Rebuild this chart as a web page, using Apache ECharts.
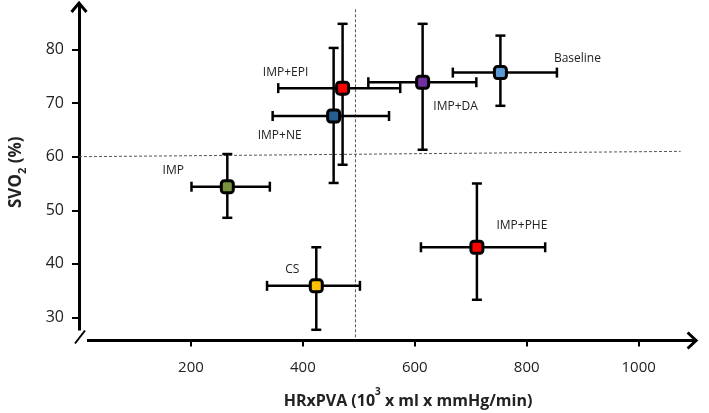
<!DOCTYPE html>
<html>
<head>
<meta charset="utf-8">
<script src="https://cdn.jsdelivr.net/npm/echarts@6/dist/echarts.min.js"></script>
<style>html,body{margin:0;padding:0;background:#fff;}#c{width:709px;height:413px;}</style>
</head>
<body>
<div id="c"></div>
<script>
const names = ['Baseline', 'IMP+DA', 'IMP+EPI', 'IMP+NE', 'IMP', 'CS', 'IMP+PHE'];
const xVals = [753, 614, 471, 455, 265, 424, 711];
const xLow  = [668, 517, 356, 346, 201, 336, 611];
const xHigh = [854, 710, 574, 554, 341, 502, 833];
const yVals = [75.7, 73.9, 72.8, 67.6, 54.4, 35.9, 43.1];
const yLow  = [69.5, 61.3, 58.5, 55.1, 48.6, 27.7, 33.3];
const yHigh = [82.6, 84.8, 84.8, 80.3, 60.5, 43.1, 55.0];
const xTicks = [200, 400, 600, 800, 1000];
const yTicks = [30, 40, 50, 60, 70, 80];
const refX = 494;   // vertical dashed reference
const refY = 60;    // horizontal dashed reference

const colors = ['#5B9BD5', '#7030A0', '#FF0000', '#255E91', '#77933C', '#FFC000', '#FF0000'];
const labelOffsets = [[77, -14], [33, 24], [-57, -16], [-54, 20], [-54, -16], [-24, -16], [45, -22]];

const chart = echarts.init(document.getElementById('c'));
const font = "'Open Sans', 'Liberation Sans', sans-serif";

const errData = names.map((n, i) => [xVals[i], yVals[i], xLow[i], xHigh[i], yLow[i], yHigh[i]]);
const ptData = names.map((n, i) => ({
  name: n,
  value: [xVals[i], yVals[i]],
  itemStyle: { color: colors[i] },
  label: { offset: labelOffsets[i] }
}));

const X_MIN = 0, X_MAX = 1100, Y_MIN = 25.7, Y_MAX = 88.5;

const option = {
  animation: false,
  title: {
    text: '{b|HRxPVA (10}{s|3}{b| x ml x mmHg/min)}',
    left: 403, top: 382, textAlign: 'center',
    textStyle: {
      rich: {
        b: { fontFamily: font, fontWeight: 'bold', fontSize: 16, color: '#222', lineHeight: 22, verticalAlign: 'bottom' },
        s: { fontFamily: font, fontWeight: 'bold', fontSize: 10, color: '#222', lineHeight: 22, verticalAlign: 'top', padding: [0, 0, 8, 0] }
      }
    }
  },
  grid: { left: 72, right: 14.4, top: 4, bottom: 72.5 },
  xAxis: {
    type: 'value', min: X_MIN, max: X_MAX,
    splitLine: { show: false },
    axisLine: { lineStyle: { color: '#000', width: 3 } },
    axisTick: { customValues: xTicks, length: 6, lineStyle: { color: '#000', width: 2 } },
    axisLabel: { customValues: xTicks, margin: 20, fontFamily: font, fontSize: 15, color: '#222', formatter: v => String(v) }
  },
  yAxis: {
    type: 'value', min: Y_MIN, max: Y_MAX,
    splitLine: { show: false },
    name: '{a|SVO}{s|2}{a| (%)}',
    nameLocation: 'middle', nameGap: 54, nameRotate: 90,
    nameTextStyle: {
      rich: {
        a: { fontFamily: font, fontWeight: 'bold', fontSize: 17, color: '#222', lineHeight: 22, verticalAlign: 'bottom' },
        s: { fontFamily: font, fontWeight: 'bold', fontSize: 11, color: '#222', lineHeight: 22, verticalAlign: 'bottom', padding: [0, 0, -3, 0] }
      }
    },
    axisLine: { lineStyle: { color: '#000', width: 3 } },
    axisTick: { customValues: yTicks, length: 7, lineStyle: { color: '#000', width: 2 } },
    axisLabel: { customValues: yTicks, margin: 15, fontFamily: font, fontSize: 16, color: '#222', formatter: v => String(v) }
  },
  series: [
    {
      type: 'line', data: [[0, refY], [1075, refY + 1]], symbol: 'none', silent: true, z: 1,
      lineStyle: { color: '#555', width: 1, type: [3, 2] }
    },
    {
      type: 'line', data: [[refX, 26.3], [refX, 87.8]], symbol: 'none', silent: true, z: 1,
      lineStyle: { color: '#555', width: 1, type: [3, 2] }
    },
    {
      type: 'custom', z: 3,
      data: errData,
      renderItem: function (params, api) {
        const c = api.coord([api.value(0), api.value(1)]);
        const l = api.coord([api.value(2), api.value(1)]);
        const r = api.coord([api.value(3), api.value(1)]);
        const b = api.coord([api.value(0), api.value(4)]);
        const t = api.coord([api.value(0), api.value(5)]);
        const h = 5;
        const st = { stroke: '#000', lineWidth: 2.5 };
        return {
          type: 'group',
          children: [
            { type: 'line', shape: { x1: l[0], y1: c[1], x2: r[0], y2: c[1] }, style: st },
            { type: 'line', shape: { x1: l[0], y1: c[1] - h, x2: l[0], y2: c[1] + h }, style: st },
            { type: 'line', shape: { x1: r[0], y1: c[1] - h, x2: r[0], y2: c[1] + h }, style: st },
            { type: 'line', shape: { x1: c[0], y1: b[1], x2: c[0], y2: t[1] }, style: st },
            { type: 'line', shape: { x1: c[0] - h, y1: b[1], x2: c[0] + h, y2: b[1] }, style: st },
            { type: 'line', shape: { x1: c[0] - h, y1: t[1], x2: c[0] + h, y2: t[1] }, style: st }
          ]
        };
      }
    },
    {
      type: 'scatter', z: 5,
      symbol: 'roundRect', symbolSize: 12,
      itemStyle: { borderColor: '#000', borderWidth: 3, opacity: 1 },
      label: {
        show: true, position: 'inside', formatter: '{b}',
        fontFamily: font, fontSize: 12, color: '#222'
      },
      data: ptData
    }
  ]
};
chart.setOption(option);

// axis decorations: break mark at the origin, open arrow heads at the ends
const o = chart.convertToPixel({ gridIndex: 0 }, [X_MIN, Y_MIN]);
const xe = chart.convertToPixel({ gridIndex: 0 }, [X_MAX, Y_MIN]);
const ye = chart.convertToPixel({ gridIndex: 0 }, [X_MIN, Y_MAX]);
const arrowStyle = { stroke: '#000', lineWidth: 3, fill: null, lineJoin: 'miter' };
chart.setOption({
  graphic: [
    { type: 'rect', shape: { x: o[0] - 8, y: o[1] - 10, width: 16, height: 15 }, style: { fill: '#fff' }, z: 100 },
    { type: 'line', shape: { x1: o[0] - 4, y1: o[1] + 3, x2: o[0] + 6, y2: o[1] - 10 }, style: { stroke: '#000', lineWidth: 2 }, z: 101 },
    { type: 'line', shape: { x1: xe[0] - 2, y1: xe[1], x2: xe[0] + 2, y2: xe[1] }, style: { stroke: '#000', lineWidth: 3 }, z: 101 },
    { type: 'polyline', shape: { points: [[xe[0] - 7, xe[1] - 8], [xe[0] + 1.5, xe[1]], [xe[0] - 7, xe[1] + 8]] }, style: arrowStyle, z: 101 },
    { type: 'line', shape: { x1: ye[0], y1: ye[1] + 2, x2: ye[0], y2: ye[1] - 1 }, style: { stroke: '#000', lineWidth: 3 }, z: 101 },
    { type: 'polyline', shape: { points: [[ye[0] - 7.5, ye[1] + 8], [ye[0], ye[1] - 1], [ye[0] + 7.5, ye[1] + 8]] }, style: arrowStyle, z: 101 }
  ]
});
</script>
</body>
</html>
